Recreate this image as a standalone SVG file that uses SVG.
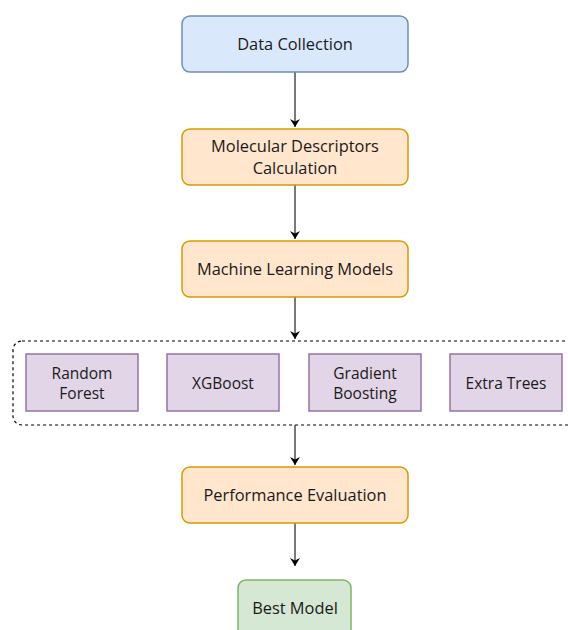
<svg xmlns="http://www.w3.org/2000/svg" width="568" height="630" viewBox="0 0 568 630">
<defs>
<style>
text{font-family:"Open Sans","Noto Sans",sans-serif;fill:#1a1a1a;text-anchor:middle;dominant-baseline:central}
.main{font-size:16.4px}
.sub{font-size:15.5px}
.blue{fill:#dae8fc;stroke:#6c8ebf;stroke-width:1.5}
.orange{fill:#ffe6cc;stroke:#d79b00;stroke-width:1.5}
.purple{fill:#e1d5e7;stroke:#9673a6;stroke-width:1.5}
.green{fill:#d5e8d4;stroke:#82b366;stroke-width:1.5}
.edge{stroke:#4d4d4d;stroke-width:1.5;fill:none}
.dash{fill:none;stroke:#000;stroke-width:1.2;stroke-dasharray:3 3}
</style>
<marker id="ah" markerWidth="10" markerHeight="10" refX="8" refY="5" orient="auto" markerUnits="userSpaceOnUse">
<path d="M0,0 L8,5 L0,10 L2.5,5 Z" fill="#000"/>
</marker>
</defs>
<rect width="568" height="630" fill="#fff"/>
<g id="group-models">
<rect class="dash" x="13" y="341" width="580" height="84" rx="9"/>
</g>
<g id="connectors">
<line class="edge" x1="295" y1="72" x2="295" y2="127" marker-end="url(#ah)"/>
<line class="edge" x1="295" y1="185" x2="295" y2="239" marker-end="url(#ah)"/>
<line class="edge" x1="295" y1="297" x2="295" y2="339" marker-end="url(#ah)"/>
<line class="edge" x1="295" y1="425" x2="295" y2="465" marker-end="url(#ah)"/>
<line class="edge" x1="295" y1="523" x2="295" y2="566" marker-end="url(#ah)"/>
</g>
<g id="data-collection">
<rect class="blue" x="182" y="16" width="226" height="56" rx="8"/>
<text class="main" x="295" y="43">Data Collection</text>
</g>
<g id="molecular-descriptors">
<rect class="orange" x="182" y="129" width="226" height="56" rx="8"/>
<text class="main" x="295" y="145">Molecular Descriptors</text>
<text class="main" x="295" y="167">Calculation</text>
</g>
<g id="ml-models">
<rect class="orange" x="182" y="241" width="226" height="56" rx="8"/>
<text class="main" x="295" y="268">Machine Learning Models</text>
</g>
<g id="random-forest">
<rect class="purple" x="26" y="354" width="112" height="57"/>
<text class="sub" x="82" y="373">Random</text>
<text class="sub" x="82" y="393">Forest</text>
</g>
<g id="xgboost">
<rect class="purple" x="167" y="354" width="112" height="57"/>
<text class="sub" x="223" y="383">XGBoost</text>
</g>
<g id="gradient-boosting">
<rect class="purple" x="309" y="354" width="112" height="57"/>
<text class="sub" x="365" y="373">Gradient</text>
<text class="sub" x="365" y="393">Boosting</text>
</g>
<g id="extra-trees">
<rect class="purple" x="450" y="354" width="112" height="57"/>
<text class="sub" x="506" y="383">Extra Trees</text>
</g>
<g id="performance-evaluation">
<rect class="orange" x="182" y="467" width="226" height="56" rx="8"/>
<text class="main" x="295" y="494">Performance Evaluation</text>
</g>
<g id="best-model">
<rect class="green" x="238" y="580" width="113" height="60" rx="8"/>
<text class="main" x="295" y="607">Best Model</text>
</g>
</svg>
